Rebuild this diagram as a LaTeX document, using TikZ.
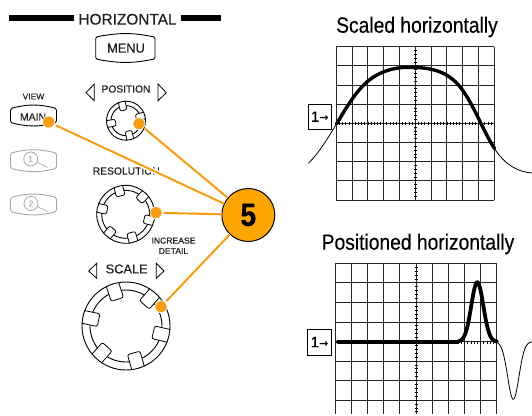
\documentclass[tikz,border=0pt]{standalone}
\usepackage{fontspec}
\setmainfont[FakeBold=0.25]{Liberation Sans}
\newfontfamily\narrowf[FakeStretch=0.875,FakeBold=0.35]{Liberation Sans}
\newfontfamily\digitf[FakeStretch=0.88,FakeBold=0.6]{Liberation Sans Bold}
\newfontfamily\arrowf{DejaVu Sans Bold}
\definecolor{badge}{HTML}{FFA600}
\definecolor{leader}{HTML}{F79D0E}
\definecolor{faint}{HTML}{A8A8A8}
\newcommand{\onearrow}{\fontsize{15}{15}\selectfont 1{\arrowf\fontsize{11}{11}\selectfont →}}
\tikzset{
  lbl/.style={inner sep=0pt,text=black!88},
  ttl/.style={inner sep=0pt,font=\narrowf\fontsize{22}{22}\selectfont},
  dot/.style={circle,fill=leader,draw=white,line width=.6pt,inner sep=0pt,minimum size=12pt},
  leadhalo/.style={draw=white,line width=5pt},
  leadline/.style={draw=leader,line width=2pt},
  tri/.style={draw=black,line width=.8pt,line join=miter,fill=white},
  onebox/.style={draw=black,line width=.7pt,fill=white,inner sep=0pt,text=black},
  gridl/.style={line width=.85pt,draw=black!85},
  thinw/.style={line width=.8pt,draw=black},
  thickw/.style={draw=black,line cap=round,line join=round},
  numc/.style={circle,draw=faint,line width=.8pt,minimum size=14pt,inner sep=0pt,text=faint,font=\fontsize{8.5}{8.5}\selectfont},
  badgec/.style={circle,draw=black,line width=1pt,fill=badge,minimum size=53pt,inner sep=0pt,font=\digitf\fontsize{32}{32}\selectfont},
}
\newcommand{\knobd}[6]{% cx cy Rout Rin halfwidth angles
  \begin{scope}[shift={(#1,#2)}]
    \draw[line width=.9pt] (0,0) circle[radius=#4pt];
    \foreach \a in {#6} {
      \begin{scope}[rotate=\a]
        \pgfmathsetmacro{\ri}{#4-(#3-#4)}
        \draw[line width=.8pt,fill=white,rounded corners=2pt] (#3,-#5) -- (\ri,-#5) -- (\ri,#5) -- (#3,#5);
      \end{scope}
    }
    \draw[line width=.9pt] (0,0) circle[radius=#3pt];
  \end{scope}}
\newcommand{\barrel}[5]{% x1 y1 x2 y2 colour
  \draw[#5,line width=.9pt,rounded corners=1.5pt] (#1,#2+3.5) .. controls ({(#1+#3)/2-6},#2-1) and ({(#1+#3)/2+6},#2-1) .. (#3,#2+3.5)
     -- (#3,#4-3.5) .. controls ({(#1+#3)/2+6},#4+1) and ({(#1+#3)/2-6},#4+1) .. (#1,#4-3.5) -- cycle;}
\begin{document}
\begin{tikzpicture}[x=1pt,y=-1pt]
\useasboundingbox (0,0) rectangle (532,415);
% header
\fill[black] (9.3,15.3) rectangle (74,20.7);
\fill[black] (181,15.3) rectangle (220.7,20.7);
\node[lbl,font=\fontsize{15.4}{15.4}\selectfont] (hz) at (127.5,19.3) {HORIZONTAL};
\barrel{95.7}{33.5}{155}{62.5}{black}
\node[lbl,font=\fontsize{12.8}{12.8}\selectfont] (menu) at (126,48.2) {MENU};
% view buttons
\node[lbl,font=\fontsize{8.5}{8.5}\selectfont] (view) at (33.5,96.5) {VIEW};
\barrel{10.5}{105}{56.5}{126}{black}
\node[lbl,font=\fontsize{10.4}{10.4}\selectfont] (mainb) at (33,117) {MAIN};
\barrel{10.5}{149.7}{56.5}{171.7}{faint}
\barrel{10.5}{194}{56.5}{215}{faint}
\node[numc] (c1) at (30.7,159) {1};
\node[numc] (c2) at (31,203.5) {2};
\coordinate (t1) at (47.5,167.5);
\coordinate (t2) at (47.5,211.5);
\draw[faint,line width=.7pt] (c1) -- (t1);
\draw[faint,line width=.7pt] (c2) -- (t2);
% position
\node[lbl,font=\fontsize{10.2}{10.2}\selectfont] (pos) at (126,89) {POSITION};
\draw[tri] (86,92.7) -- (94.3,84) -- (94.3,100.7) -- cycle;
\draw[tri] (158,84) -- (158,100.7) -- (166.3,92.7) -- cycle;
\knobd{126}{120.7}{19.5}{15}{3.4}{103,16,-77,190}
% resolution
\node[lbl,font=\fontsize{10.3}{10.3}\selectfont] (res) at (126.3,171) {RESOLUTION};
\knobd{125.7}{214.3}{29}{24}{4.4}{105,46,-14,-74,-131,167}
\node[lbl,font=\fontsize{8.6}{8.6}\selectfont] (inc) at (173.5,240.6) {INCREASE};
\node[lbl,font=\fontsize{8.6}{8.6}\selectfont] (det) at (173.5,251) {DETAIL};
% scale
\node[lbl,font=\fontsize{12.8}{12.8}\selectfont] (sc) at (126.7,269) {SCALE};
\draw[tri] (88.7,271) -- (96.7,263.3) -- (96.7,278.3) -- cycle;
\draw[tri] (156.3,263.3) -- (156.3,278.3) -- (164,271) -- cycle;
\knobd{126}{326}{44}{36}{6.5}{108,49,-13,-74,-132,168}
% badge and leaders
\node[badgec] (b5) at (248.3,215) {5};
\node[dot] (dm) at (48.7,122) {};
\node[dot] (dp) at (139,123.7) {};
\node[dot] (dr) at (156,212.7) {};
\node[dot] (ds) at (161,306.7) {};
\foreach \d in {dm,dp,dr,ds} \draw[leadhalo,shorten <=2pt] (\d) -- (b5);
\foreach \d in {dm,dp,dr,ds} \draw[leadline,shorten <=1.5pt] (\d) -- (b5);
% graph 1
\node[ttl] (ta) at (417,27) {Scaled horizontally};
\foreach \i in {0,...,10} \draw[gridl] ({336.3+\i*15.8},46.7) -- ({336.3+\i*15.8},200);
\foreach \j in {0,...,8} \draw[gridl] (336.3,{46.7+\j*19.16}) -- (494.3,{46.7+\j*19.16});
\foreach \k in {1,...,39} \draw[black,line width=.8pt] ({415.3-1.5},{46.7+\k*3.83}) -- ({415.3+1.5},{46.7+\k*3.83});
\foreach \k in {1,...,49} \draw[black,line width=.8pt] ({336.3+\k*3.16},{123.3-1.5}) -- ({336.3+\k*3.16},{123.3+1.5});
\draw[thinw] (308.3,163.3) .. controls (320,152) and (329,136) .. (336.5,124);
\draw[thinw] (494.5,148.5) .. controls (505,165) and (518,172) .. (532,173);
\draw[thickw,line width=3.4pt] (336.5,124) .. controls (345,110) and (355,92) .. (368,81)
  .. controls (380,71) and (395,67.3) .. (408,67.3)
  .. controls (428,67.3) and (441,70) .. (452.3,79)
  .. controls (470,93) and (481,128) .. (494.5,148.5);
\node[onebox,minimum width=22.7pt,minimum height=25.3pt] (b1) at (319.7,116.7) {\onearrow};
% graph 2
\node[ttl] (tb) at (418,244) {Positioned horizontally};
\foreach \i in {0,...,10} \draw[gridl] ({335.3+\i*16.14},263.3) -- ({335.3+\i*16.14},414);
\foreach \j in {0,...,7} \draw[gridl] (335.3,{263.3+\j*19.55}) -- (496.7,{263.3+\j*19.55});
\foreach \k in {1,...,38} \draw[black,line width=.8pt] ({416-1.5},{263.3+\k*3.91}) -- ({416+1.5},{263.3+\k*3.91});
\foreach \k in {1,...,49} \draw[black,line width=.8pt] ({335.3+\k*3.23},{342-1.5}) -- ({335.3+\k*3.23},{342+1.5});
\draw[thinw] plot[domain=497:532,samples=60] (\x,{341.7+57.6*exp(-((\x-513.3)/8)^2)});
\draw[thickw,line width=3.8pt] (338,341.7) -- (458,341.7);
\draw[thickw,line width=3.8pt] plot[domain=458:497,samples=70] (\x,{341.7-59.5*exp(-((\x-477.3)/8.5)^2)});
\node[onebox,minimum width=24.4pt,minimum height=26pt] (b2) at (319.5,342) {\onearrow};
\end{tikzpicture}
\end{document}
